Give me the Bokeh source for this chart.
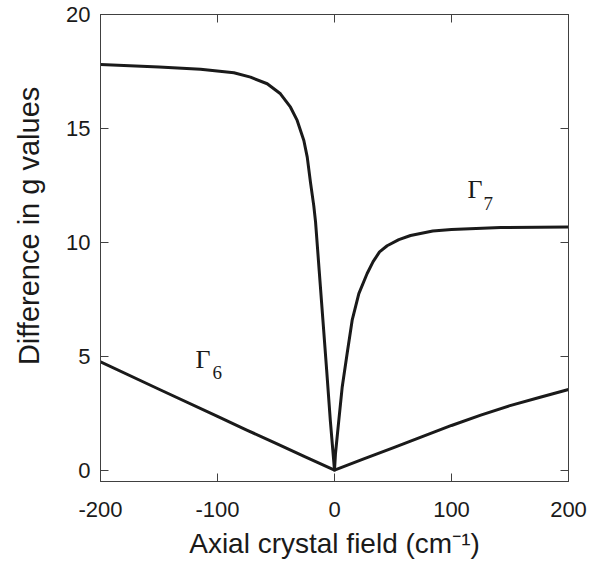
import math
from bokeh.plotting import figure
from bokeh.models import Range1d, LinearAxis, Label, FixedTicker
from bokeh.embed import file_html
from bokeh.resources import INLINE

# Gamma 7 branch (upper curve)
gamma7_x = [-200, -150, -114.5, -86, -71.8, -57.5, -46.2, -37.6, -31.9, -26.2, -23.3,
            -20.5, -17.7, -16.2, -13.1, -9.9, -6.7, -3.6, 0,
            0.85, 3.7, 6.6, 10.8, 15.1, 20.8, 27.9, 33, 38.5, 45, 55, 65, 84, 100, 142, 200]
gamma7_y = [17.8, 17.69, 17.6, 17.44, 17.25, 16.96, 16.52, 15.93, 15.35, 14.47, 13.74,
            12.62, 11.6, 10.9, 8.77, 6.58, 4.39, 2.19, 0.0,
            0.73, 2.19, 3.65, 5.12, 6.58, 7.75, 8.63, 9.15, 9.58, 9.85, 10.12, 10.3, 10.5,
            10.56, 10.65, 10.67]

# Gamma 6 branch (lower curve)
gamma6_x = [-200, -150, -100, -75, -50, -25, 0, 25, 50, 75, 100, 125, 150, 175, 200]
gamma6_y = [4.75, 3.55, 2.36, 1.76, 1.17, 0.58, 0.0, 0.49, 0.98, 1.47, 1.96, 2.41, 2.83, 3.19, 3.54]

x_ticks = [-200, -100, 0, 100, 200]
y_ticks = [0, 5, 10, 15, 20]

x_label = "Axial crystal field (cm\u207b\u00b9)"
y_label = "Difference in g values"

INK = "#1a1a1a"
AXIS = "#404040"
SANS = "Liberation Sans"
SERIF = "Liberation Serif"

p = figure(width=600, height=562, output_backend="svg", toolbar_location=None,
           x_range=Range1d(-200, 200), y_range=Range1d(-0.5, 20),
           min_border_left=100, min_border_right=32, min_border_top=14,
           min_border_bottom=81)
p.background_fill_color = "white"
p.border_fill_color = "white"
p.outline_line_color = AXIS
p.xgrid.visible = False
p.ygrid.visible = False

xa = p.xaxis[0]
xa.ticker = FixedTicker(ticks=x_ticks)
xa.major_label_overrides = {t: str(t) for t in x_ticks}
ya = p.yaxis[0]
ya.ticker = FixedTicker(ticks=y_ticks)
for ax in (xa, ya):
    ax.axis_line_color = AXIS
    ax.major_tick_line_color = AXIS
    ax.major_tick_in = 8
    ax.major_tick_out = 0
    ax.minor_tick_line_color = None
    ax.major_label_text_font = SANS
    ax.major_label_text_font_size = "22px"
    ax.major_label_text_color = INK
xa.major_label_standoff = 20
ya.major_label_standoff = 10
xa.axis_label = x_label
xa.axis_label_text_font = SANS
xa.axis_label_text_font_size = "28px"
xa.axis_label_text_font_style = "normal"
xa.axis_label_text_color = INK
xa.axis_label_standoff = 8

top = LinearAxis(ticker=FixedTicker(ticks=x_ticks))
right = LinearAxis(ticker=FixedTicker(ticks=y_ticks))
for ax in (top, right):
    ax.axis_line_color = AXIS
    ax.major_tick_line_color = AXIS
    ax.major_tick_in = 8
    ax.major_tick_out = 0
    ax.minor_tick_line_color = None
    ax.major_label_text_font_size = "0px"
    ax.major_label_text_alpha = 0
    ax.major_label_standoff = 0
p.add_layout(top, "above")
p.add_layout(right, "right")

p.line(gamma7_x, gamma7_y, line_color=INK, line_width=3, line_join="round")
p.line(gamma6_x, gamma6_y, line_color=INK, line_width=3, line_join="round")

# y-axis title, placed in the left panel (not clipped to the frame)
p.add_layout(Label(x=-261.5, y=10.72, text=y_label, angle=math.pi / 2,
                   text_align="center", text_baseline="alphabetic",
                   text_font=SANS, text_font_size="29px", text_color=INK), "left")

p.add_layout(Label(x=-118.8, y=4.84, text="\u0393", text_font=SERIF,
                   text_font_size="26px", text_color=INK, text_baseline="alphabetic"))
p.add_layout(Label(x=-104.3, y=4.27, text="6", text_font=SERIF,
                   text_font_size="19px", text_color=INK, text_baseline="alphabetic"))
p.add_layout(Label(x=113.7, y=12.33, text="\u0393", text_font=SERIF,
                   text_font_size="26px", text_color=INK, text_baseline="alphabetic"))
p.add_layout(Label(x=127.4, y=11.72, text="7", text_font=SERIF,
                   text_font_size="19px", text_color=INK, text_baseline="alphabetic"))

open("out.html", "w").write(file_html(p, INLINE))
